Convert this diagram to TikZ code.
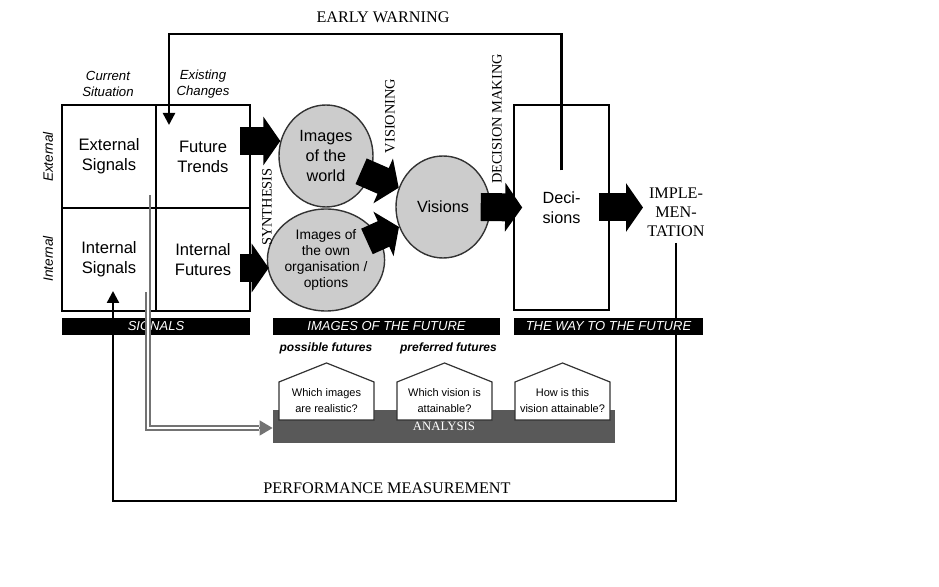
\documentclass[tikz,border=0pt]{standalone}
\usepackage{fontspec}
\setmainfont{Liberation Serif}
\setsansfont{Liberation Sans}
\usetikzlibrary{arrows.meta,shapes.geometric,calc}

\tikzset{
  cell/.style={font=\sffamily\fontsize{8.3}{10}\selectfont, align=center,
    minimum width=47pt, minimum height=51.5pt, inner sep=0pt},
  colhead/.style={font=\sffamily\itshape\fontsize{6.6}{8}\selectfont, align=center},
  rowhead/.style={font=\sffamily\itshape\fontsize{6.8}{8}\selectfont, rotate=90},
  bubble/.style={ellipse, draw=black!80, line width=0.7pt, fill=black!20,
    minimum width=47pt, minimum height=51pt, inner sep=0pt, align=center,
    font=\sffamily\fontsize{8.1}{10}\selectfont},
  band/.style={fill=black, text=white, font=\sffamily\itshape\fontsize{6.5}{8}\selectfont,
    minimum height=8.5pt, inner sep=0pt},
  phase/.style={font=\fontsize{7.2}{8}\selectfont, rotate=90, inner sep=0pt},
  caption/.style={font=\fontsize{8.1}{9}\selectfont, inner sep=0pt},
  flow/.style={line width=1.2pt, -{Triangle[width=6pt,length=6pt]}},
  fat/.style={line width=14pt, -{Triangle[width=24pt,length=8.5pt]}},
  house/.style={draw=black!80, fill=white, line width=0.6pt},
  ask/.style={font=\sffamily\fontsize{5.5}{8.2}\selectfont, align=center},
  futures/.style={font=\sffamily\bfseries\itshape\fontsize{6}{7}\selectfont},
  feed/.style={draw=black!55, line width=0.7pt},
}

\begin{document}
\begin{tikzpicture}[x=0.5pt, y=-0.5pt]
    \useasboundingbox (0,0) rectangle (939,587);

    % Signal matrix
    \draw[line width=0.8pt] (62,105) rectangle (250,311);
    \draw[line width=0.8pt] (156,105) -- (156,311);
    \draw[line width=0.8pt] (62,208) -- (250,208);

    \node[cell] (ext) at (109,156.5) {External\\Signals};
    \node[cell] (trends) at (203,156.5) {Future\\Trends};
    \node[cell] (intsig) at (109,259.5) {Internal\\Signals};
    \node[cell] (intfut) at (203,259.5) {Internal\\Futures};

    \node[colhead] (cur) at (108,84) {Current\\Situation};
    \node[colhead] (exist) at (203,84) {Existing\\Changes};
    \node[rowhead] (extrow) at (48,157) {External};
    \node[rowhead] (introw) at (48,259) {Internal};

    % Images of the future
    \node[bubble] (world) at (326,156) {Images\\of the\\world};
    \node[bubble, font=\sffamily\fontsize{6.9}{8}\selectfont] (own) at (326,260)
        {Images of\\the own\\organisation /\\options};
    \node[bubble] (vis) at (443,207) {Visions};

    % Way to the future
    \node[draw, line width=0.8pt, minimum width=47.5pt, minimum height=102.5pt,
        align=center, font=\sffamily\fontsize{8.1}{10}\selectfont] (dec) at (561.5,207.5) {Deci-\\sions};
    \node[font=\fontsize{8.1}{9.5}\selectfont, align=center, inner sep=1pt] (impl) at (676,212)
        {IMPLE-\\MEN-\\TATION};

    % Phase labels
    \node[phase] (syn) at (267,207) {SYNTHESIS};
    \node[phase] (visg) at (390,116) {VISIONING};
    \node[phase] (decm) at (497,119) {DECISION MAKING};

    % Block arrows
    \coordinate (a1) at (240,141);
    \coordinate (a2) at (240,268);
    \draw[fat] (a1) -- ([xshift=1pt]a1 -| world.west);
    \draw[fat] (a2) -- ([xshift=1pt]a2 -| own.west);
    \draw[fat] ($(world)!0.3!(vis)$) -- (vis);
    \draw[fat] ($(own)!0.35!(vis)$) -- (vis);
    \draw[fat] ([xshift=-5pt]vis.east) -- ([xshift=4.5pt]dec.west);
    \draw[fat] ([xshift=-5.5pt]dec.east) -- ([xshift=-1pt]impl.west |- dec.east);

    % Early warning loop
    \coordinate (ewstart) at ([yshift=18.5pt]dec.center);
    \coordinate (ewtop) at (0,34);
    \coordinate (ewtip) at (169,125);
    \draw[flow] (ewstart) -- (ewstart |- ewtop) -| (ewtip);
    \node[caption] (ewlabel) at (383,17) {EARLY WARNING};

    % Performance measurement loop
    \coordinate (pmbase) at (0,501);
    \coordinate (pmtip) at (113,291);
    \draw[flow] ([yshift=-2pt]impl.south) -- (impl.south |- pmbase) -| (pmtip);
    \node[caption] (pmlabel) at (387,488) {PERFORMANCE MEASUREMENT};

    % Bands
    \node[band, minimum width=94pt] (sig) at (156,326.5) {SIGNALS};
    \node[band, minimum width=113.5pt] (img) at (386.5,326.5) {IMAGES OF THE FUTURE};
    \node[band, minimum width=94.5pt] (way) at (608.5,326.5) {THE WAY TO THE FUTURE};

    \node[futures] (poss) at (326,348) {possible futures};
    \node[futures] (pref) at (448.5,348) {preferred futures};

    % Analysis bar with questions
    \node[fill=black!65, minimum width=171pt, minimum height=16.5pt, inner sep=0pt,
        text=white, font=\fontsize{6.4}{7}\selectfont] (ana) at (444,426.5) {\raisebox{-2.5pt}{ANALYSIS}};
    \foreach \i/\cx/\txt in {1/326.5/{Which images\\are realistic?},
                             2/444.5/{Which vision is\\attainable?},
                             3/562.5/{How is this\\vision attainable?}} {
        \draw[house] (\cx-47.5,420) -- (\cx-47.5,382) -- (\cx,363) -- (\cx+47.5,382) -- (\cx+47.5,420) -- cycle;
        \node[ask] (q\i) at (\cx,400.5) {\txt};
    }

    % Signals fed into the analysis
    \coordinate (gtop) at (150,195);
    \coordinate (gmid) at (150,292);
    \coordinate (gbend) at (148,428);
    \coordinate (gend) at (259,428);
    \draw[feed] (gtop) -- (gmid);
    \draw[feed, double=white, double distance=1.2pt] ([xshift=-1pt]gmid) -- (gbend) -- (gend);
    \draw[feed, -{Triangle[width=7.5pt,length=6.5pt]}, black!55] (gend) -- (gend -| ana.west);
\end{tikzpicture}
\end{document}
